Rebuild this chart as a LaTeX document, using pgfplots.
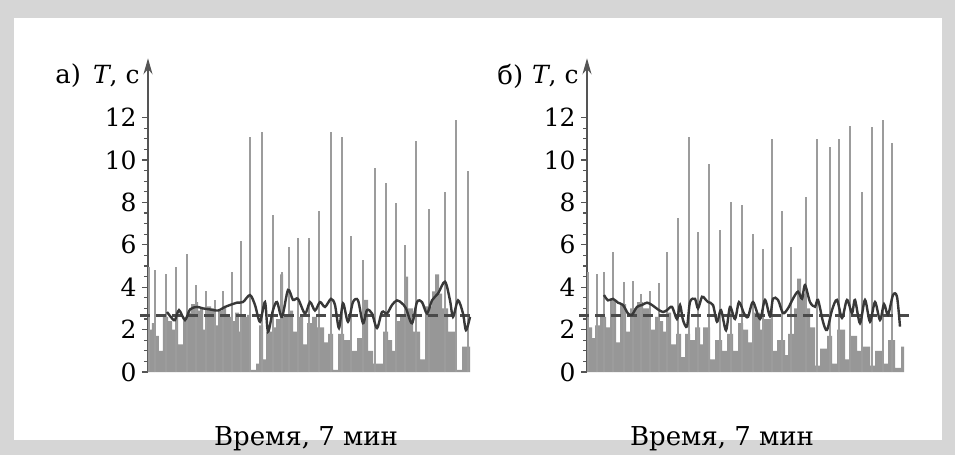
\documentclass[border=0pt]{standalone}
\usepackage{fontspec}
\setmainfont{DejaVu Serif}
\usepackage{pgfplots}
\pgfplotsset{compat=1.18}
\usetikzlibrary{arrows.meta}
\definecolor{bgc}{HTML}{D6D6D6}
\definecolor{areac}{HTML}{979797}
\definecolor{spikec}{HTML}{9C9C9C}
\definecolor{linec}{HTML}{383838}
\definecolor{dashc}{HTML}{4A4A4A}
\definecolor{axc}{HTML}{555555}
\pgfplotsset{panel/.style={
  x=0.5pt, y=10.6pt, xmin=0, xmax=326, ymin=0, ymax=14.8,
  axis x line=none, axis y line=left,
  y axis line style={draw=axc, line width=0.9pt, -{Stealth[length=8pt,width=4.5pt]}},
  ytick={0,2,...,12}, minor ytick={0.5,1,...,11.5},
  tick align=outside, major tick length=3pt, minor tick length=2pt,
  every tick/.append style={draw=axc, line width=0.6pt},
  xtick=\empty,
  yticklabel style={font=\fontsize{12.5}{14}\selectfont, inner sep=0pt, xshift=-2.5pt},
  /pgf/number format/assume math mode=true,
  clip=false, anchor=south west,
}}
\begin{document}
\begin{tikzpicture}
\fill[bgc] (0,0) rectangle (477.5pt,227.5pt);
\fill[white] (7pt,7.5pt) rectangle (471pt,218.5pt);
% ---------- panel a ----------
\begin{axis}[panel, at={(74pt,41.5pt)}]
\addplot[const plot, fill=areac, draw=none] coordinates {
(0,2.0) (4,2.3) (8,1.7) (11,1.0) (15,2.6) (20,2.4) (24,2.0) (27,2.6) (30,1.3) (35,2.6)
(39,2.8) (43,3.2) (47,3.3) (50,2.9) (52,3.0) (55,2.0) (58,3.1) (63,3.0) (67,2.2) (70,2.9) (74,3.1) (78,2.6)
(83,2.4) (87,2.8) (91,1.9) (94,2.6) (99,2.7) (102,0.1) (108,0.4) (111,2.2) (115,0.6) (118,1.9)
(124,2.1) (128,2.5) (132,4.6) (135,2.6) (140,2.9) (145,1.9) (149,2.6) (155,1.3) (159,2.3) (164,2.6) (169,2.1) (176,1.4) (180,1.8)
(185,0.1) (190,1.8) (196,1.5) (202,1.0) (209,1.6) (214,3.4) (220,1.0) (225,0.4) (235,1.9) (240,1.5) (244,1.0) (247,2.4)
(252,2.7) (257,4.5) (260,3.0) (265,1.9) (272,0.6) (277,3.1) (284,3.8) (287,4.6) (291,3.7) (294,3.0) (300,1.9)
(307,0.1) (314,1.2) (322,1.2)} \closedcycle;
\addplot[ycomb, draw=spikec, line width=1.3pt, mark=none] coordinates {
(1,4.95) (7,4.8) (18,4.6) (28,4.95) (39,5.57) (48,4.1) (58,3.8) (67,3.4) (75,3.8) (84,4.7)
(93,6.2) (102,11.1) (114,11.3) (125,7.4) (134,4.7) (141,5.9) (150,6.3) (161,6.3) (171,7.6) (183,11.3)
(194,11.1) (203,6.4) (215,5.3) (227,9.6) (238,8.9) (248,7.95) (257,6.0) (268,10.9) (281,7.7) (297,8.5)
(308,11.9) (320,9.5)};
\addplot[draw=dashc, line width=1.4pt, dash pattern=on 5pt off 3pt] coordinates {(-8,2.65) (325,2.65)};
\addplot[draw=linec, line width=1.2pt, smooth, tension=0.5] coordinates {
(19,2.83) (24,2.53) (27,2.45) (31,2.92) (37,2.45) (42,2.95) (49,3.07) (55,3.0) (62,2.95) (70,2.9)
(77,3.07) (82,3.16) (89,3.27) (95,3.3) (102,3.63) (107,3.16) (112,2.37) (117,3.3) (120,1.9) (125,2.92)
(129,3.3) (134,2.6) (140,3.87) (145,3.4) (150,3.45) (157,2.76) (162,3.3) (167,2.9) (172,3.3) (177,3.07)
(183,3.45) (187,3.16) (191,2.07) (195,3.24) (200,2.37) (205,3.3) (210,3.38) (215,2.3) (219,2.92) (224,2.76)
(229,2.07) (234,2.83) (239,2.76) (244,3.16) (249,3.38) (254,3.24) (258,3.0) (264,2.3) (269,3.3) (274,3.3)
(279,2.76) (284,3.38) (290,3.7) (297,4.26) (302,3.38) (305,2.6) (310,3.38) (315,2.76) (318,1.97) (322,2.6)};
\node[anchor=west, inner sep=0pt, font=\fontsize{13}{15}\selectfont] at (axis cs:-93,13.96) {а)};
\node[anchor=east, inner sep=0pt, font=\fontsize{12.5}{15}\selectfont] at (axis cs:-8,13.96) {\textit{T}, с};
\node[font=\fontsize{13}{15}\selectfont] at (axis cs:158,-3.15) {Время, 7 мин};
\end{axis}
% ---------- panel b ----------
\begin{axis}[panel, at={(293.5pt,41.5pt)}]
\addplot[const plot, fill=areac, draw=none] coordinates {
(0,2.1) (3,2.1) (5,1.6) (8,2.2) (13,2.6) (19,2.1) (23,3.4) (29,1.4) (33,3.2) (39,1.9)
(43,3.0) (50,3.3) (56,3.0) (63,2.0) (68,2.6) (72,2.4) (76,1.9) (79,2.8) (84,1.3) (89,1.8) (94,0.7)
(98,1.8) (103,1.5) (108,2.1) (113,1.3) (116,2.1) (123,0.6) (128,1.5) (135,1.0) (140,1.8) (146,1.0)
(151,2.3) (156,2.0) (161,1.4) (165,2.8) (173,2.0) (176,2.5) (185,1.0) (190,1.5) (198,0.8) (201,1.8) (207,3.0)
(210,4.4) (214,3.7) (218,3.0) (223,2.1) (228,0.3) (233,1.1) (240,1.7) (245,0.4) (250,2.0) (258,0.6)
(263,1.7) (270,1.0) (276,1.2) (283,0.3) (288,1.0) (296,0.4) (301,1.5) (308,0.2) (314,1.2) (317,1.2)} \closedcycle;
\addplot[ycomb, draw=spikec, line width=1.3pt, mark=none] coordinates {
(1,4.7) (10,4.6) (17,4.7) (26,5.66) (37,4.25) (46,4.3) (54,3.7) (63,3.8) (72,4.2) (80,5.66)
(91,7.25) (102,11.1) (111,6.6) (122,9.8) (133,6.7) (144,8.0) (155,7.9) (166,6.5) (176,5.8) (185,11.0)
(195,7.6) (204,5.9) (219,8.25) (230,11.0) (243,10.6) (252,11.0) (263,11.6) (275,8.5) (285,11.55) (296,11.9)
(305,10.8)};
\addplot[draw=dashc, line width=1.4pt, dash pattern=on 5pt off 3pt] coordinates {(-8,2.65) (325,2.65)};
\addplot[draw=linec, line width=1.2pt, smooth, tension=0.5] coordinates {
(17,3.63) (21,3.38) (26,3.45) (31,3.27) (36,3.16) (41,2.76) (45,2.7) (50,3.07) (55,3.16) (60,3.27)
(65,3.16) (71,2.95) (76,2.83) (80,2.92) (85,3.07) (90,2.5) (93,3.16) (96,2.45) (100,2.15) (103,3.3)
(108,3.45) (111,3.0) (115,3.55) (118,3.45) (121,3.3) (126,3.16) (130,2.37) (134,2.92) (139,1.97) (143,3.07)
(148,2.5) (152,3.3) (157,2.76) (161,2.6) (166,3.3) (173,2.5) (178,3.4) (183,2.63) (186,3.46) (191,3.4)
(196,2.78) (201,3.0) (206,3.46) (211,3.79) (215,3.46) (218,4.1) (223,3.3) (228,3.08) (231,3.4) (236,2.37)
(240,1.98) (245,2.92) (250,3.4) (255,2.55) (260,3.4) (265,2.78) (268,3.4) (273,2.3) (278,3.4) (283,2.37)
(288,3.3) (293,2.45) (297,3.2) (301,2.7) (306,3.63) (310,3.55) (313,2.14)};
\node[anchor=west, inner sep=0pt, font=\fontsize{13}{15}\selectfont] at (axis cs:-90,13.96) {б)};
\node[anchor=east, inner sep=0pt, font=\fontsize{12.5}{15}\selectfont] at (axis cs:-8,13.96) {\textit{T}, с};
\node[font=\fontsize{13}{15}\selectfont] at (axis cs:135,-3.15) {Время, 7 мин};
\end{axis}
\end{tikzpicture}
\end{document}
